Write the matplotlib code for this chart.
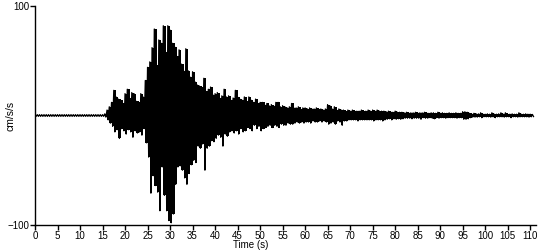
import matplotlib
matplotlib.use("Agg")
import matplotlib.pyplot as plt
import numpy as np

# envelope of the record, one (peak, trough) pair per 0.5 s bin, cm/s/s
bin_step = 0.5
peak = [0.8, 0.8, 0.8, 0.8, 0.8, 0.8, 0.8, 0.8, 0.8, 0.8,
        0.8, 0.8, 0.8, 0.8, 0.8, 0.8, 0.8, 0.8, 0.8, 0.8,
        0.8, 0.8, 0.8, 0.8, 0.8, 0.8, 0.8, 0.8, 0.8, 0.8, 0.8,
        # 15.5 s
        1.5, 5, 8, 12, 23, 17, 15, 14, 11, 20,
        24, 16, 21, 20, 13, 12, 20, 17, 32, 44,
        # 25.5 s
        49, 62, 79, 46, 69, 66, 82, 58, 82, 78,
        66, 63, 54, 60, 47, 41, 61, 41, 35, 40,
        # 35.5 s
        31, 28, 27, 26, 34, 22, 24, 26, 19, 20,
        21, 16, 18, 24, 17, 18, 14, 16, 23, 17,
        # 45.5 s
        15, 14, 17, 13, 17, 14, 12, 15, 11, 12,
        12, 10, 11, 9, 10, 9, 12, 12, 8, 9,
        # 55.5 s
        8, 7, 8, 11, 7, 7, 8, 6, 7, 7,
        6, 7, 6, 6, 7, 6, 6, 5, 6, 10,
        # 65.5 s
        9, 6, 8, 5, 6, 5, 5, 4, 5, 4,
        5, 4, 4, 4, 5, 4, 4, 5, 4, 5,
        # 75.5 s
        4, 5, 4, 4, 4, 3.5, 4, 3.5, 3, 4,
        3, 3, 3, 2.5, 3, 2.5, 2.5, 2.5, 3, 2.5,
        # 85.5 s
        2.5, 2.5, 3, 2.5, 2, 2.5, 2.5, 2, 3, 2,
        2.5, 2, 2, 2.5, 2, 2, 2.5, 2, 2, 3.5,
        # 95.5 s
        3.5, 3, 2, 1.5, 2, 1.5, 1.5, 2.5, 1.2, 1.2,
        1.5, 1.2, 2.5, 1.2, 1.2, 1.5, 2.5, 1.2, 2.5, 1.2,
        # 105.5 s
        1.2, 1.5, 1.2, 1.2, 2.5, 1.2, 1.2, 1.5, 1.2, 1.2, 1.0]
trough = [-0.8, -0.8, -0.8, -0.8, -0.8, -0.8, -0.8, -0.8, -0.8, -0.8,
          -0.8, -0.8, -0.8, -0.8, -0.8, -0.8, -0.8, -0.8, -0.8, -0.8,
          -0.8, -0.8, -0.8, -0.8, -0.8, -0.8, -0.8, -0.8, -0.8, -0.8, -0.8,
          # 15.5 s
          -1.5, -4, -7, -10, -15, -13, -21, -12, -14, -17,
          -13, -15, -20, -14, -16, -15, -18, -12, -25, -38,
          # 25.5 s
          -71, -55, -64, -70, -87, -47, -73, -87, -96, -98,
          -90, -63, -47, -46, -50, -57, -63, -53, -45, -41,
          # 35.5 s
          -43, -28, -30, -26, -50, -30, -28, -23, -24, -21,
          -18, -20, -28, -17, -19, -15, -14, -16, -14, -17,
          # 45.5 s
          -12, -15, -14, -11, -12, -14, -9, -12, -10, -14,
          -12, -11, -10, -9, -11, -9, -10, -11, -8, -9,
          # 55.5 s
          -9, -7, -8, -8, -7, -6, -7, -6, -7, -6,
          -6, -7, -5, -6, -6, -5, -6, -5, -6, -8,
          # 65.5 s
          -7, -6, -8, -5, -6, -9, -5, -5, -4, -4,
          -4, -4, -5, -4, -4, -4, -4, -4, -4, -5,
          # 75.5 s
          -4, -4, -4, -5, -4, -3.5, -3, -4, -3, -3.5,
          -3, -3.5, -3, -2.5, -2.5, -2.5, -3, -2.5, -2.5, -2.5,
          # 85.5 s
          -3.5, -2, -2.5, -2.5, -2, -2.5, -3, -2, -2.5, -2,
          -2, -2.5, -2, -2, -2, -2, -2.5, -2, -2, -3.5,
          # 95.5 s
          -3.5, -3, -2, -1.5, -1.5, -1.5, -1.2, -2, -1.2, -1.2,
          -1.2, -1.5, -1.2, -2, -1.2, -1.2, -1.2, -1.5, -1.2, -1.2,
          # 105.5 s
          -2, -1.2, -1.2, -1.5, -1.2, -1.2, -1.2, -1.2, -1.5, -1.2, -1.0]

xticks = list(range(0, 111, 5))
yticks = [-100, 100]

t0 = np.arange(len(peak)) * bin_step
t = np.column_stack([t0, t0 + bin_step / 2]).ravel()
acc = np.column_stack([peak, trough]).ravel()

plt.rcParams['font.family'] = ['Liberation Sans', 'DejaVu Sans']
fig = plt.figure(figsize=(5.5, 2.5), dpi=100)
ax = fig.add_axes([35 / 550, 1 - 225 / 250, 501 / 550, 219 / 250])
# solid body of the trace, then the zigzag on top for the spiky edge
ax.fill_between(t0, trough, peak, step='post', color='black', linewidth=0)
ax.plot(t, acc, color='black', linewidth=0.9)

ax.set_xlim(0, 111.3)
ax.set_ylim(-100, 100)
ax.set_xticks(xticks)
ax.set_yticks(yticks)
ax.tick_params(axis='both', labelsize=7, length=3.5, width=1, pad=0.5, colors='black')
for s in ['top', 'right']:
    ax.spines[s].set_visible(False)
for s in ['left', 'bottom']:
    ax.spines[s].set_linewidth(1)
    ax.spines[s].set_color('black')

ax.set_xlabel('Time (s)', fontsize=7, va='bottom')
ax.xaxis.set_label_coords(0.43, -0.112)
ax.set_ylabel('cm/s/s', fontsize=7.5)
ax.yaxis.set_label_coords(-0.038, 0.5)

fig.savefig('out.png', dpi=100)
